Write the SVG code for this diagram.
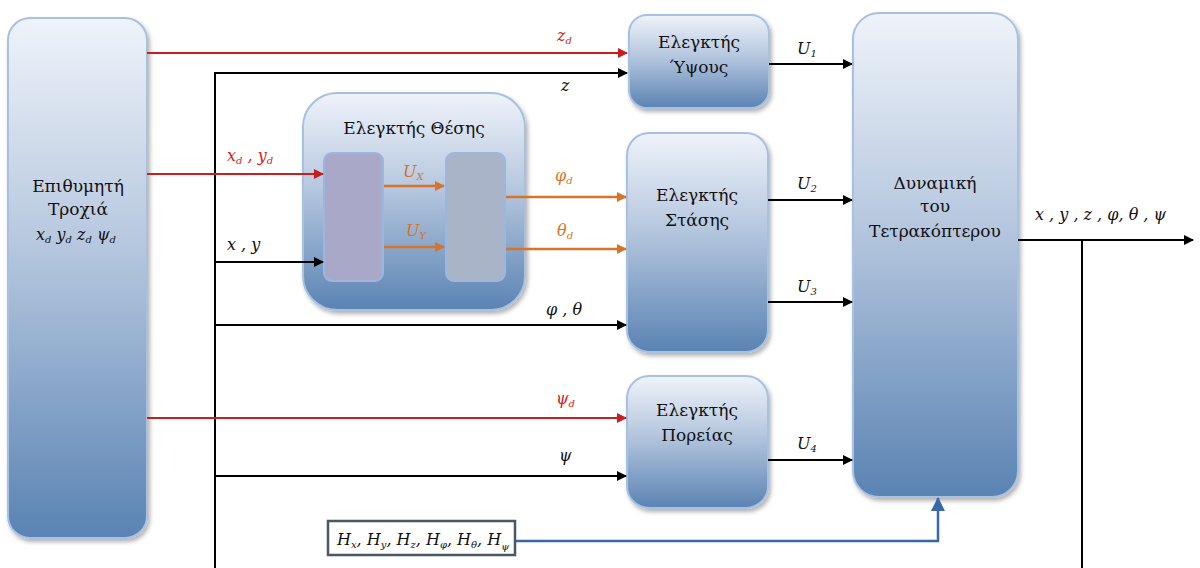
<svg xmlns="http://www.w3.org/2000/svg" width="1200" height="568" viewBox="0 0 1200 568">
  <defs>
    <linearGradient id="blockGrad" x1="0" y1="0" x2="0" y2="1">
      <stop offset="0" stop-color="#eff3fa"/>
      <stop offset="0.45" stop-color="#b4c6de"/>
      <stop offset="1" stop-color="#5a83b3"/>
    </linearGradient>
    <filter id="shadow" x="-10%" y="-10%" width="130%" height="130%">
      <feDropShadow dx="2" dy="3" stdDeviation="2" flood-color="#000" flood-opacity="0.3"/>
    </filter>
    <marker id="arrowBlack" markerWidth="10" markerHeight="10" refX="9" refY="5" orient="auto" markerUnits="userSpaceOnUse">
      <path d="M0,0 L10,5 L0,10 Z" fill="#000"/>
    </marker>
    <marker id="arrowRed" markerWidth="10" markerHeight="10" refX="9" refY="5" orient="auto" markerUnits="userSpaceOnUse">
      <path d="M0,0 L10,5 L0,10 Z" fill="#c81e1e"/>
    </marker>
    <marker id="arrowOrange" markerWidth="10" markerHeight="10" refX="9" refY="5" orient="auto" markerUnits="userSpaceOnUse">
      <path d="M0,0 L10,5 L0,10 Z" fill="#d8732a"/>
    </marker>
    <marker id="arrowBlue" markerWidth="14" markerHeight="14" refX="13" refY="7" orient="auto" markerUnits="userSpaceOnUse">
      <path d="M0,0 L14,7 L0,14 Z" fill="#3a68a6"/>
    </marker>
  </defs>
  <style>
    text { font-family: 'DejaVu Serif', 'Liberation Serif', serif; }
    .block { fill: url(#blockGrad); stroke: #a8c0e2; stroke-width: 2; filter: url(#shadow); }
    .title { font-size: 17px; fill: #111; text-anchor: middle; }
    .math { font-style: italic; font-size: 16px; fill: #111; }
    .math-red { font-style: italic; font-size: 16px; fill: #d42020; }
    .math-orange { font-style: italic; font-size: 16px; fill: #d8732a; }
    .sub { font-size: 10px; }
    .wire { fill: none; stroke: #000; stroke-width: 2; }
    .wire-red { fill: none; stroke: #c81e1e; stroke-width: 2; }
    .wire-orange { fill: none; stroke: #d8732a; stroke-width: 2.5; }
    .wire-blue { fill: none; stroke: #3a68a6; stroke-width: 2.5; }
  </style>

  <!-- Desired trajectory -->
  <g id="trajectory">
    <rect class="block" x="8" y="18" width="139" height="520" rx="22"/>
    <text class="title" x="78" y="192">Επιθυμητή</text>
    <text class="title" x="78" y="215">Τροχιά</text>
    <text class="math" x="36" y="240" font-size="15">x<tspan class="sub" dy="3">d</tspan><tspan dy="-3">  y</tspan><tspan class="sub" dy="3">d</tspan><tspan dy="-3">  z</tspan><tspan class="sub" dy="3">d</tspan><tspan dy="-3">  ψ</tspan><tspan class="sub" dy="3">d</tspan></text>
  </g>

  <!-- Position controller with its two inner stages -->
  <g id="position-controller">
    <rect class="block" x="303" y="93" width="222" height="217" rx="34"/>
    <text class="title" x="414" y="134">Ελεγκτής Θέσης</text>
    <rect x="324" y="153" width="59" height="128" rx="8" fill="#aaa8c8" stroke="#9db6de" stroke-width="2"/>
    <rect x="446" y="153" width="59" height="128" rx="8" fill="#a9b4c8" stroke="#9db6de" stroke-width="2"/>
  </g>

  <!-- Altitude controller -->
  <g id="altitude-controller">
    <rect class="block" x="629" y="15" width="140" height="93" rx="18"/>
    <text class="title" x="699" y="48">Ελεγκτής</text>
    <text class="title" x="699" y="73">Ύψους</text>
  </g>

  <!-- Attitude controller -->
  <g id="attitude-controller">
    <rect class="block" x="627" y="133" width="141" height="219" rx="22"/>
    <text class="title" x="697" y="201">Ελεγκτής</text>
    <text class="title" x="697" y="226">Στάσης</text>
  </g>

  <!-- Heading controller -->
  <g id="heading-controller">
    <rect class="block" x="627" y="376" width="141" height="132" rx="22"/>
    <text class="title" x="697" y="416">Ελεγκτής</text>
    <text class="title" x="697" y="441">Πορείας</text>
  </g>

  <!-- Quadrotor dynamics -->
  <g id="dynamics">
    <rect class="block" x="853" y="13" width="165" height="484" rx="26"/>
    <text class="title" x="935" y="189">Δυναμική</text>
    <text class="title" x="935" y="212">του</text>
    <text class="title" x="935" y="237">Τετρακόπτερου</text>
  </g>

  <!-- Disturbances -->
  <g id="disturbances">
    <rect x="328" y="521" width="187" height="34" fill="#fff" stroke="#4a5866" stroke-width="2.5"/>
    <text class="math" x="337" y="545" font-size="15">H<tspan class="sub" dy="3">x</tspan><tspan dy="-3">, H</tspan><tspan class="sub" dy="3">y</tspan><tspan dy="-3">, H</tspan><tspan class="sub" dy="3">z</tspan><tspan dy="-3">, H</tspan><tspan class="sub" dy="3">φ</tspan><tspan dy="-3">, H</tspan><tspan class="sub" dy="3">θ</tspan><tspan dy="-3">, H</tspan><tspan class="sub" dy="5">ψ</tspan></text>
  </g>

  <!-- Connectors -->
  <g id="connectors">
    <!-- feedback bus -->
    <path class="wire" d="M215,568 V73"/>
    <path class="wire" d="M1082,568 V240"/>
    <!-- references -->
    <path class="wire-red" d="M147,53 H627" marker-end="url(#arrowRed)"/>
    <path class="wire-red" d="M147,174 H323" marker-end="url(#arrowRed)"/>
    <path class="wire-red" d="M147,418 H626" marker-end="url(#arrowRed)"/>
    <!-- measured states -->
    <path class="wire" d="M214,73 H627" marker-end="url(#arrowBlack)"/>
    <path class="wire" d="M214,262 H323" marker-end="url(#arrowBlack)"/>
    <path class="wire" d="M214,325 H626" marker-end="url(#arrowBlack)"/>
    <path class="wire" d="M214,476 H626" marker-end="url(#arrowBlack)"/>
    <!-- position controller internals and outputs -->
    <path class="wire-orange" d="M384,186 H444" marker-end="url(#arrowOrange)"/>
    <path class="wire-orange" d="M384,247 H444" marker-end="url(#arrowOrange)"/>
    <path class="wire-orange" d="M506,197 H626" marker-end="url(#arrowOrange)"/>
    <path class="wire-orange" d="M506,249 H626" marker-end="url(#arrowOrange)"/>
    <!-- control inputs -->
    <path class="wire" d="M769,64 H852" marker-end="url(#arrowBlack)"/>
    <path class="wire" d="M768,200 H852" marker-end="url(#arrowBlack)"/>
    <path class="wire" d="M768,302 H852" marker-end="url(#arrowBlack)"/>
    <path class="wire" d="M768,460 H852" marker-end="url(#arrowBlack)"/>
    <!-- state output -->
    <path class="wire" d="M1018,240 H1193" marker-end="url(#arrowBlack)"/>
    <!-- disturbances -->
    <path class="wire-blue" d="M516,541 H938 V498" marker-end="url(#arrowBlue)"/>

    <!-- connector labels -->
    <text class="math-red" x="557" y="41">z<tspan class="sub" dy="3">d</tspan></text>
    <text class="math" x="561" y="91">z</text>
    <text class="math-red" x="227" y="161">x<tspan class="sub" dy="3">d</tspan><tspan dy="-3"> ,  y</tspan><tspan class="sub" dy="3">d</tspan></text>
    <text class="math" x="227" y="250">x ,  y</text>
    <text class="math-orange" x="403" y="177">U<tspan class="sub" dy="3">X</tspan></text>
    <text class="math-orange" x="406" y="236">U<tspan class="sub" dy="3">Y</tspan></text>
    <text class="math-orange" x="555" y="181">φ<tspan class="sub" dy="3">d</tspan></text>
    <text class="math-orange" x="557" y="236">θ<tspan class="sub" dy="3">d</tspan></text>
    <text class="math" x="546" y="315">φ ,  θ</text>
    <text class="math-red" x="556" y="404">ψ<tspan class="sub" dy="3">d</tspan></text>
    <text class="math" x="559" y="461">ψ</text>
    <text class="math" x="797" y="54">U<tspan class="sub" dy="3">1</tspan></text>
    <text class="math" x="797" y="189">U<tspan class="sub" dy="3">2</tspan></text>
    <text class="math" x="797" y="292">U<tspan class="sub" dy="3">3</tspan></text>
    <text class="math" x="797" y="449">U<tspan class="sub" dy="3">4</tspan></text>
    <text class="math" x="1035" y="220">x ,  y ,  z ,  φ,  θ ,  ψ</text>
  </g>
</svg>
